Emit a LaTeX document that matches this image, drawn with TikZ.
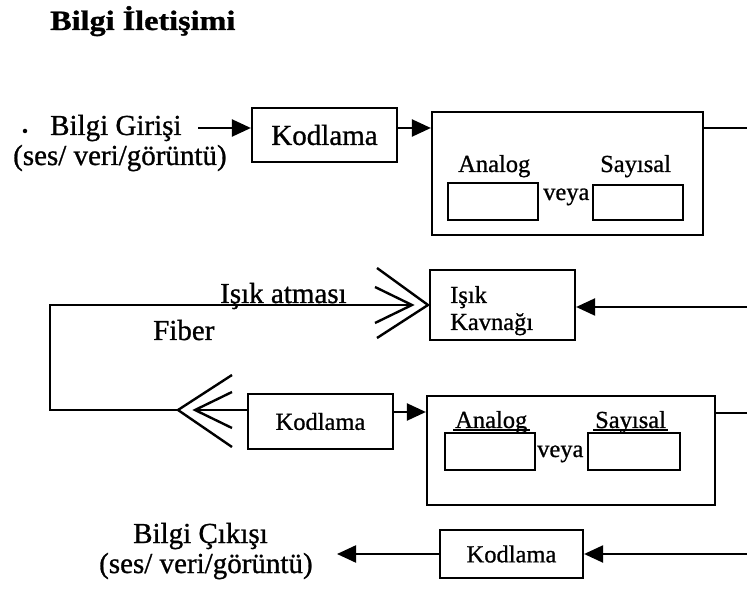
\documentclass[tikz,border=0pt]{standalone}
\usepackage{fontspec}
\setmainfont{Liberation Serif}[FakeBold=0.9]
\usetikzlibrary{arrows.meta}
\begin{document}
\begin{tikzpicture}[x=1pt,y=-1pt,
  box/.style={draw, line width=2.2pt, inner sep=0pt},
  lbl/.style={inner sep=0pt, anchor=base west},
  big/.style={font=\fontsize{29}{32}\selectfont},
  mid/.style={font=\fontsize{24.5}{28}\selectfont},
  wire/.style={line width=2.2pt},
  arr/.style={wire, -{Triangle[length=19pt,width=17pt]}},
  chev/.style={line width=2.4pt, line join=miter},
  rule/.style={line width=1.3pt}]

\useasboundingbox (0,0) rectangle (747,593);

% heading
\node[lbl, font=\fontsize{28}{32}\selectfont\bfseries] (title) at (50,30)
  {\scalebox{1.15}[1]{Bilgi İletişimi}};

% input side
\node[circle, fill, inner sep=0pt, minimum size=4.5pt] (dot) at (25,131) {};
\node[lbl, big] (inA) at (50,135) {Bilgi Girişi};
\node[lbl, big] (inB) at (13,165) {(ses/ veri/görüntü)};

% transmitter boxes
\node[box, big, minimum width=145pt, minimum height=54pt] (kod1) at (324.5,135) {Kodlama};
\node[box, minimum width=271pt, minimum height=123pt] (big1) at (567.5,173.5) {};
\node[box, minimum width=90pt, minimum height=37pt] (an1) at (493,201.5) {};
\node[box, minimum width=90pt, minimum height=35pt] (sy1) at (638,202.5) {};
\node[lbl, mid] (an1l) at (458,172) {Analog};
\node[lbl, mid] (sy1l) at (600,172) {Sayısal};
\node[lbl, mid] (ve1) at (543,200) {veya};

% light source
\node[box, minimum width=145pt, minimum height=70pt] (isik) at (502.5,305) {};
\node[lbl, mid] (isikA) at (450,303) {Işık};
\node[lbl, mid] (isikB) at (450,330) {Kavnağı};

% receiver boxes
\node[box, mid, minimum width=145pt, minimum height=55pt] (kod2) at (320.5,421.5) {Kodlama};
\node[box, minimum width=288pt, minimum height=109pt] (big2) at (571,450.5) {};
\node[box, minimum width=90pt, minimum height=37pt] (an2) at (490,451.5) {};
\node[box, minimum width=92pt, minimum height=37pt] (sy2) at (634,451.5) {};
\node[lbl, mid] (an2l) at (455,428) {Analog};
\node[lbl, mid] (sy2l) at (595,428) {Sayısal};
\node[lbl, mid] (ve2) at (537,457) {veya};
\draw[rule] ([yshift=-2pt,xshift=-2pt]an2l.base west) -- ([yshift=-2pt,xshift=2pt]an2l.base east);
\draw[rule] ([yshift=-2pt,xshift=-2pt]sy2l.base west) -- ([yshift=-2pt,xshift=2pt]sy2l.base east);

% output side
\node[box, mid, minimum width=143pt, minimum height=48pt] (kod3) at (511.5,554) {Kodlama};
\node[lbl, big] (outA) at (133,543) {Bilgi Çıkışı};
\node[lbl, big] (outB) at (99,573) {(ses/ veri/görüntü)};

% signal path, top row
\coordinate (inTail) at (198,128);
\draw[arr] (inTail) -- (inTail -| kod1.west);
\coordinate (r1) at (0,128);
\draw[arr] (kod1.east |- r1) -- (big1.west |- r1);
\coordinate (e1) at (747,128);
\draw[wire] (big1.east |- e1) -- (e1);
\coordinate (e2) at (747,307);
\draw[arr] (e2) -- (e2 -| isik.east);

% fiber link with its connectors
\coordinate (fv1o) at (428,305);
\coordinate (fv1i) at (412,305);
\coordinate (f1) at (50,305);
\coordinate (f2) at (50,410);
\coordinate (fv2o) at (178,410);
\coordinate (fv2i) at (195,410);
\draw[wire] (fv1i) -- (f1) -- (f2) -- (fv2o);
\draw[chev] (377,268) -- (fv1o) -- (377,338);
\draw[chev] (375,287) -- (fv1i) -- (375,323);
\draw[chev] (232,375) -- (fv2o) -- (232,447);
\draw[chev] (232,392) -- (fv2i) -- (232,428);
\draw[wire] (fv2i) -- (fv2i -| kod2.west);
\node[lbl, big] (fibA) at (220,303) {Işık atması};
\node[lbl, big] (fibB) at (153,340) {Fiber};

% signal path, lower rows
\coordinate (r2) at (0,412);
\draw[arr] (kod2.east |- r2) -- (big2.west |- r2);
\coordinate (e3) at (747,413);
\draw[wire] (big2.east |- e3) -- (e3);
\coordinate (e4) at (747,554);
\draw[arr] (e4) -- (e4 -| kod3.east);
\coordinate (outTip) at (337,554);
\draw[arr] (kod3.west |- outTip) -- (outTip);

\end{tikzpicture}
\end{document}
